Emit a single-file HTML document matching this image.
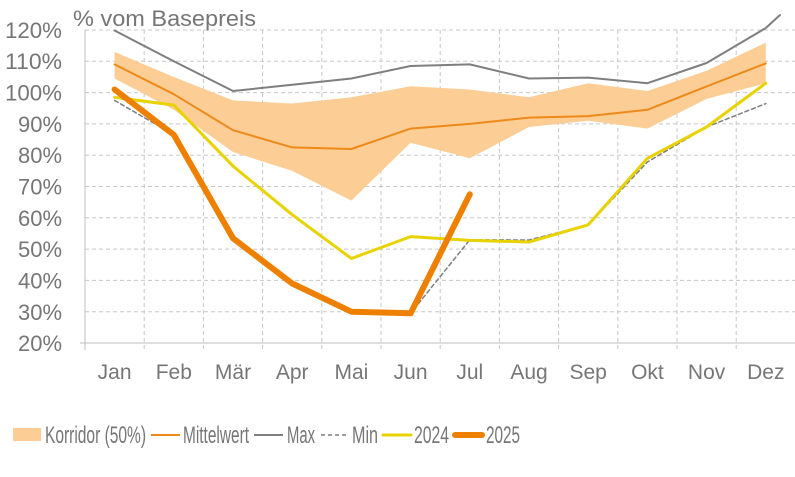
<!DOCTYPE html>
<html><head><meta charset="utf-8"><style>
body{margin:0;background:#fff}
svg text{font-family:"Liberation Sans",sans-serif;fill:#767676}
</style></head><body>
<svg width="795" height="472" viewBox="0 0 795 472" xmlns="http://www.w3.org/2000/svg">
<g stroke="#c8c8c8" stroke-dasharray="4,3" stroke-width="1">
<line x1="85" y1="30" x2="795" y2="30"/><line x1="85" y1="61.3" x2="795" y2="61.3"/><line x1="85" y1="92.6" x2="795" y2="92.6"/><line x1="85" y1="123.9" x2="795" y2="123.9"/><line x1="85" y1="155.2" x2="795" y2="155.2"/><line x1="85" y1="186.5" x2="795" y2="186.5"/><line x1="85" y1="217.8" x2="795" y2="217.8"/><line x1="85" y1="249.1" x2="795" y2="249.1"/><line x1="85" y1="280.4" x2="795" y2="280.4"/><line x1="85" y1="311.7" x2="795" y2="311.7"/>
<line x1="144.2" y1="30" x2="144.2" y2="350"/><line x1="203.4" y1="30" x2="203.4" y2="350"/><line x1="262.6" y1="30" x2="262.6" y2="350"/><line x1="321.8" y1="30" x2="321.8" y2="350"/><line x1="381" y1="30" x2="381" y2="350"/><line x1="440.2" y1="30" x2="440.2" y2="350"/><line x1="499.4" y1="30" x2="499.4" y2="350"/><line x1="558.6" y1="30" x2="558.6" y2="350"/><line x1="617.8" y1="30" x2="617.8" y2="350"/><line x1="677" y1="30" x2="677" y2="350"/><line x1="736.2" y1="30" x2="736.2" y2="350"/>
</g>
<line x1="85" y1="30" x2="85" y2="350" stroke="#bfbfbf"/>
<line x1="80" y1="343" x2="795" y2="343" stroke="#bfbfbf"/>
<polygon fill="#fdcd96" points="114.6,51.9 173.8,77 233,100.4 292.2,103.5 351.4,97.3 410.6,86.3 469.8,89.5 529,97.3 588.2,83.2 647.4,91 706.6,70.7 765.8,42.5 765.8,83.2 706.6,98.9 647.4,128.6 588.2,120.8 529,127 469.8,158.3 410.6,142.7 351.4,200.6 292.2,170.9 233,152 173.8,109.8 114.6,78.5"/>
<g fill="none" stroke-linejoin="round" stroke-linecap="round">
<polyline stroke="#ee8a1a" stroke-width="2" points="114.6,64.4 173.8,94.2 233,130.2 292.2,147.4 351.4,149 410.6,128.6 469.8,123.9 529,117.6 588.2,116.1 647.4,109.8 706.6,86.4 765.8,63.4"/>
<polyline stroke="#7f7f7f" stroke-width="2" points="114.6,30.5 173.8,61.3 233,91 292.2,84.8 351.4,78.5 410.6,66 469.8,64.4 529,78.5 588.2,77.6 647.4,83.2 706.6,63 765.8,28 780,15"/>
<polyline stroke="#7f7f7f" stroke-width="1.5" stroke-dasharray="4,3" points="114.6,100.4 173.8,134.8 233,238 292.2,283.5 351.4,311.7 410.6,313.3 469.8,239.8 529,240 588.2,225 647.4,162 706.6,127 765.8,103.6"/>
<polyline stroke="#e8d200" stroke-width="3" points="114.6,97.3 173.8,105.1 233,166.1 292.2,214.7 351.4,258.5 410.6,236.6 469.8,240.4 529,242 588.2,224.8 647.4,158.3 706.6,127 765.8,83.2"/>
<polyline stroke="#ee8000" stroke-width="6" points="114.6,89.5 173.8,134.8 233,238.3 292.2,283.5 351.4,311.7 410.6,313.3 469.8,194.3"/>
</g>
<g font-size="22">
<text x="5" y="38" textLength="57" lengthAdjust="spacingAndGlyphs">120%</text><text x="5" y="69" textLength="57" lengthAdjust="spacingAndGlyphs">110%</text><text x="5" y="100.5" textLength="57" lengthAdjust="spacingAndGlyphs">100%</text>
<text x="18" y="132" textLength="44" lengthAdjust="spacingAndGlyphs">90%</text><text x="18" y="163" textLength="44" lengthAdjust="spacingAndGlyphs">80%</text><text x="18" y="194.5" textLength="44" lengthAdjust="spacingAndGlyphs">70%</text><text x="18" y="226" textLength="44" lengthAdjust="spacingAndGlyphs">60%</text><text x="18" y="257" textLength="44" lengthAdjust="spacingAndGlyphs">50%</text><text x="18" y="288.5" textLength="44" lengthAdjust="spacingAndGlyphs">40%</text><text x="18" y="320" textLength="44" lengthAdjust="spacingAndGlyphs">30%</text><text x="18" y="351" textLength="44" lengthAdjust="spacingAndGlyphs">20%</text>
<text x="73" y="26" textLength="183" lengthAdjust="spacingAndGlyphs">% vom Basepreis</text>
</g>
<g font-size="21" text-anchor="middle">
<text x="114.6" y="379">Jan</text><text x="173.8" y="379">Feb</text><text x="233" y="379">Mär</text><text x="292.2" y="379">Apr</text><text x="351.4" y="379">Mai</text><text x="410.6" y="379">Jun</text><text x="469.8" y="379">Jul</text><text x="529" y="379">Aug</text><text x="588.2" y="379">Sep</text><text x="647.4" y="379">Okt</text><text x="706.6" y="379">Nov</text><text x="765.8" y="379">Dez</text>
</g>
<g font-size="24">
<rect x="13" y="428" width="28" height="13" fill="#fdcd96"/>
<text x="45" y="443" textLength="101" lengthAdjust="spacingAndGlyphs">Korridor (50%)</text>
<line x1="151" y1="435" x2="180" y2="435" stroke="#ee8a1a" stroke-width="2"/>
<text x="183" y="443" textLength="66" lengthAdjust="spacingAndGlyphs">Mittelwert</text>
<line x1="254" y1="435" x2="283" y2="435" stroke="#7f7f7f" stroke-width="2"/>
<text x="287" y="443" textLength="28" lengthAdjust="spacingAndGlyphs">Max</text>
<line x1="321" y1="435" x2="349" y2="435" stroke="#7f7f7f" stroke-width="1.5" stroke-dasharray="4,3"/>
<text x="352" y="443" textLength="26" lengthAdjust="spacingAndGlyphs">Min</text>
<line x1="383" y1="435" x2="411" y2="435" stroke="#e8d200" stroke-width="3" stroke-linecap="round"/>
<text x="414" y="443" textLength="35" lengthAdjust="spacingAndGlyphs">2024</text>
<line x1="455" y1="435" x2="482" y2="435" stroke="#ee8000" stroke-width="6" stroke-linecap="round"/>
<text x="486" y="443" textLength="34" lengthAdjust="spacingAndGlyphs">2025</text>
</g>
</svg>
</body></html>
